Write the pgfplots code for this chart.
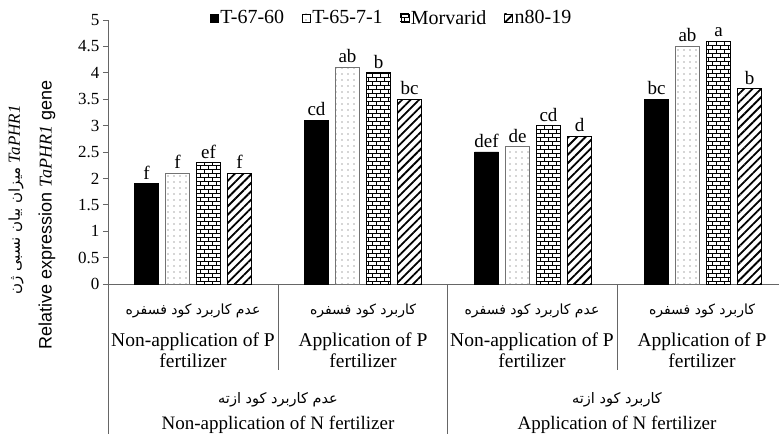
\documentclass[border=0pt]{standalone}
\usepackage{pgfplots}
\pgfplotsset{compat=1.18}
\usetikzlibrary{patterns,patterns.meta}
\usepackage{fontspec}
\setmainfont{Liberation Serif}
\newfontfamily\arial{Liberation Sans}
\newfontfamily\farsi[Script=Arabic]{DejaVu Sans}
\TeXXeTstate=1

\tikzdeclarepattern{
  name=mybricks,
  type=uncolored,
  bottom left={(-.6pt,-.6pt)},
  top right={(8.6pt,8.6pt)},
  tile size={(8pt,8pt)},
  code={
    \tikzset{x=1pt,y=1pt,line width=1.1pt}
    \draw (0,0)--(8,0) (0,4)--(8,4) (0,0)--(0,4) (4,4)--(4,8);
  }
}

\begin{document}
\begin{tikzpicture}
\useasboundingbox (-108pt,-150pt) rectangle (671pt,284pt);
\begin{axis}[
  scale only axis, width=671pt, height=264pt,
  at={(0,0)}, anchor=south west,
  xmin=-0.5, xmax=3.447, ymin=0, ymax=5,
  ybar=7pt, bar width=24pt,
  axis x line*=bottom, axis y line*=left,
  axis line style={-, draw=black!60, line width=0.8pt},
  xtick=\empty,
  ytick={0,0.5,...,5},
  yticklabels={0,0.5,1,1.5,2,2.5,3,3.5,4,4.5,5},
  tick align=outside, major tick length=5pt,
  tick style={draw=black!60, line width=0.8pt},
  ticklabel style={font=\fontsize{17}{19}\selectfont},
  /pgf/number format/assume math mode=true,
  clip=false,
  nodes near coords,
  point meta=explicit symbolic,
  every node near coord/.append style={font=\fontsize{19}{21}\selectfont, inner sep=4pt},
  legend columns=-1,
  legend style={draw=none, fill=none, at={(axis description cs:0.411,1.008)}, anchor=center,
    font=\fontsize{20}{22}\selectfont, inner sep=0pt,
    nodes={inner sep=2pt}},
  legend image code/.code={\path[draw=none, fill=none] (0pt,0pt) -- (16pt,0pt);
    \draw[#1, draw=black, line width=0.4pt] (16pt,-4pt) rectangle (24pt,4pt);},
]
\addplot[fill=black, draw=black] coordinates {(0,1.9) [f] (1,3.1) [cd] (2,2.5) [def] (3,3.5) [bc]};
\addplot[draw=black!55, line width=0.9pt, pattern={Dots[distance=6pt, radius=0.6pt]}, pattern color=black!70] coordinates {(0,2.1) [f] (1,4.1) [ab] (2,2.6) [de] (3,4.5) [ab]};
\addplot[draw=black, line width=0.6pt, pattern=mybricks, pattern color=black] coordinates {(0,2.3) [ef] (1,4.0) [b] (2,3.0) [cd] (3,4.6) [a]};
\addplot[draw=black, line width=0.6pt, pattern={Lines[angle=45, distance=6pt, line width=1.8pt]}, pattern color=black] coordinates {(0,2.1) [f] (1,3.5) [bc] (2,2.8) [d] (3,3.7) [b]};
\legend{T-67-60,T-65-7-1,Morvarid,n80-19}
\end{axis}
% category separators
\draw[black!60, line width=0.8pt] (0pt,0pt) -- (0pt,-150pt);
\draw[black!60, line width=0.8pt] (170pt,0pt) -- (170pt,-86pt);
\draw[black!60, line width=0.8pt] (339pt,0pt) -- (339pt,-150pt);
\draw[black!60, line width=0.8pt] (509pt,0pt) -- (509pt,-86pt);
% P level labels
\foreach \cx/\pfa/\pen in {85/{عدم کاربرد کود فسفره}/{Non-application of P},
                        255/{کاربرد کود فسفره}/{Application of P},
                        424/{عدم کاربرد کود فسفره}/{Non-application of P},
                        594/{کاربرد کود فسفره}/{Application of P}}{
  \node[font=\farsi\fontsize{14}{16}\selectfont] at (\cx pt,-27pt) {\beginR\pfa\endR};
  \node[font=\fontsize{19.5}{20.5}\selectfont, align=center] at (\cx pt,-66pt) {\pen\\fertilizer};
}
% N level labels
\node[font=\farsi\fontsize{14.5}{16}\selectfont] at (170pt,-116pt) {\beginR عدم کاربرد کود ازته\endR};
\node[font=\fontsize{19}{20}\selectfont] at (170pt,-141pt) {Non-application of N fertilizer};
\node[font=\farsi\fontsize{14.5}{16}\selectfont] at (509pt,-116pt) {\beginR کاربرد کود ازته\endR};
\node[font=\fontsize{19}{20}\selectfont] at (509pt,-141pt) {Application of N fertilizer};
% y label
\node[rotate=90, font=\arial\fontsize{18}{20}\selectfont] at (-61pt,69pt) {Relative expression {\rmfamily\itshape TaPHR1} gene};
\node[rotate=90, font=\fontsize{17}{19}\selectfont] at (-92pt,84pt) {{\farsi\fontsize{15}{17}\selectfont\beginR میزان بیان نسبی ژن\endR} {\itshape TaPHR1}};
\end{tikzpicture}
\end{document}
